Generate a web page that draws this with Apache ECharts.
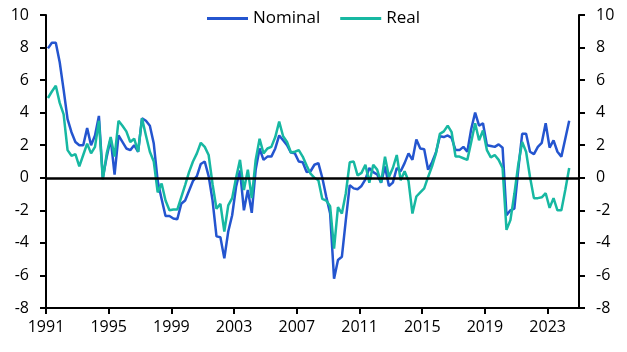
<!DOCTYPE html>
<html>
<head>
<meta charset="utf-8">
<script src="https://cdn.jsdelivr.net/npm/echarts@6/dist/echarts.min.js"></script>
<style>
  html, body { margin: 0; padding: 0; background: #fff; }
  #chart { width: 627px; height: 352px; }
</style>
</head>
<body>
<div id="chart"></div>
<script>
// quarterly, 1991Q1 .. 2024Q2
var startYear = 1991;
var nominal = [
  7.95, 8.3, 8.3, 7.1, 5.4, 3.6, 2.8, 2.2, 2.0, 2.0, 3.05, 2.0, 2.6, 3.8, 0.0, 1.3,
  2.4, 0.2, 2.6, 2.2, 1.8, 1.7, 2.0, 1.6, 3.65, 3.5, 3.2, 2.1, -0.2, -1.3, -2.35, -2.35,
  -2.5, -2.55, -1.6, -1.4, -0.8, -0.2, 0.1, 0.85, 1.0, 0.1, -1.4, -3.6, -3.65, -4.95, -3.3, -2.3,
  -0.55, 0.45, -2.0, -0.75, -2.15, 0.5, 1.8, 1.1, 1.3, 1.3, 1.8, 2.6, 2.3, 2.0, 1.55, 1.5,
  1.0, 0.95, 0.35, 0.4, 0.8, 0.9, 0.0, -1.15, -2.2, -6.2, -5.05, -4.85, -2.6, -0.45, -0.65, -0.7,
  -0.5, -0.1, 0.6, 0.35, 0.2, -0.3, 0.7, -0.5, -0.3, 0.6, 0.4, 0.9, 1.5, 1.1, 2.35, 1.8,
  1.75, 0.5, 0.95, 1.55, 2.55, 2.5, 2.6, 2.45, 1.7, 1.7, 1.9, 1.6, 3.0, 4.0, 3.2, 3.35,
  2.0, 1.95, 1.9, 2.05, 1.85, -2.3, -2.0, -1.9, 0.5, 2.7, 2.7, 1.6, 1.45, 1.9, 2.15, 3.35,
  1.85, 2.3, 1.6, 1.3, 2.4, 3.5
];
var real = [
  4.9, 5.3, 5.65, 4.6, 3.9, 1.7, 1.35, 1.45, 0.7, 1.4, 2.1, 1.5, 1.9, 3.5, -0.1, 1.5,
  2.5, 1.3, 3.5, 3.2, 2.85, 2.2, 2.4, 1.6, 3.65, 2.6, 1.6, 1.0, -0.9, -0.35, -1.4, -2.0,
  -1.95, -1.95, -1.2, -0.45, 0.35, 1.0, 1.5, 2.15, 1.9, 1.4, -0.4, -1.9, -1.6, -3.3, -1.7, -1.25,
  0.0, 1.1, -0.75, 0.5, -1.25, 1.1, 2.4, 1.5, 1.8, 1.9, 2.5, 3.45, 2.55, 2.2, 1.55, 1.6,
  1.7, 1.3, 0.75, 0.25, 0.0, -0.15, -1.3, -1.4, -1.75, -4.35, -1.8, -2.2, -0.95, 0.95, 1.0, 0.15,
  0.3, 0.8, -0.3, 0.8, 0.5, -0.3, 1.3, 0.05, 0.6, 1.4, -0.15, 0.4, -0.2, -2.2, -1.15, -0.9,
  -0.65, 0.05, 0.7, 1.5, 2.7, 2.85, 3.2, 2.8, 1.3, 1.3, 1.2, 1.1, 2.2, 3.35, 2.3, 2.9,
  1.7, 1.25, 1.4, 1.1, 0.6, -3.2, -2.6, -1.0, 0.8, 2.2, 1.6, 0.05, -1.25, -1.25, -1.2, -0.95,
  -1.85, -1.25, -2.0, -2.0, -0.75, 0.6
];
var yTicks = [-8, -6, -4, -2, 0, 2, 4, 6, 8, 10];

// x in quarters since 1991Q1, points placed mid-quarter
function pairs(arr) {
  return arr.map(function (v, i) { return [i + 0.5, v]; });
}

var font = 'Open Sans';
var yAxisBase = {
  type: 'value',
  min: yTicks[0],
  max: yTicks[yTicks.length - 1],
  interval: 2,
  axisLine: { show: true, lineStyle: { color: '#000', width: 2 } },
  axisTick: { show: true, inside: false, length: 6, lineStyle: { color: '#000', width: 2 } },
  splitLine: { show: false },
  axisLabel: { color: '#000', fontFamily: font, fontSize: 16, margin: 17 }
};

var chart = echarts.init(document.getElementById('chart'), null, { renderer: 'canvas' });
chart.setOption({
  animation: false,
  color: ['#2455cf', '#17b8a2'],
  grid: { left: 46, right: 48, top: 15, bottom: 44, containLabel: false },
  legend: {
    top: 5,
    left: 'center',
    icon: 'rect',
    itemWidth: 41,
    itemHeight: 3,
    itemGap: 20,
    textStyle: { color: '#000', fontFamily: font, fontSize: 17 },
    data: ['Nominal', 'Real']
  },
  xAxis: {
    type: 'value',
    min: 0,
    max: 136,
    interval: 16,
    axisLine: { show: true, onZero: false, lineStyle: { color: '#000', width: 2 } },
    axisTick: { show: true, length: 6, lineStyle: { color: '#000', width: 2 } },
    splitLine: { show: false },
    axisLabel: {
      color: '#000', fontFamily: font, fontSize: 16, margin: 11,
      formatter: function (v) { return String(startYear + v / 4); }
    }
  },
  yAxis: [
    Object.assign({}, yAxisBase, { position: 'left' }),
    Object.assign({}, yAxisBase, { position: 'right' })
  ],
  series: [
    {
      name: 'Nominal',
      type: 'line',
      data: pairs(nominal),
      symbol: 'none',
      lineStyle: { width: 2.5 },
      z: 3,
      markLine: {
        silent: true,
        symbol: 'none',
        label: { show: false },
        lineStyle: { color: '#000', width: 2.5, type: 'solid' },
        data: [{ yAxis: 0 }]
      }
    },
    {
      name: 'Real',
      type: 'line',
      data: pairs(real),
      symbol: 'none',
      lineStyle: { width: 2.5 },
      z: 4
    }
  ]
});
</script>
</body>
</html>
